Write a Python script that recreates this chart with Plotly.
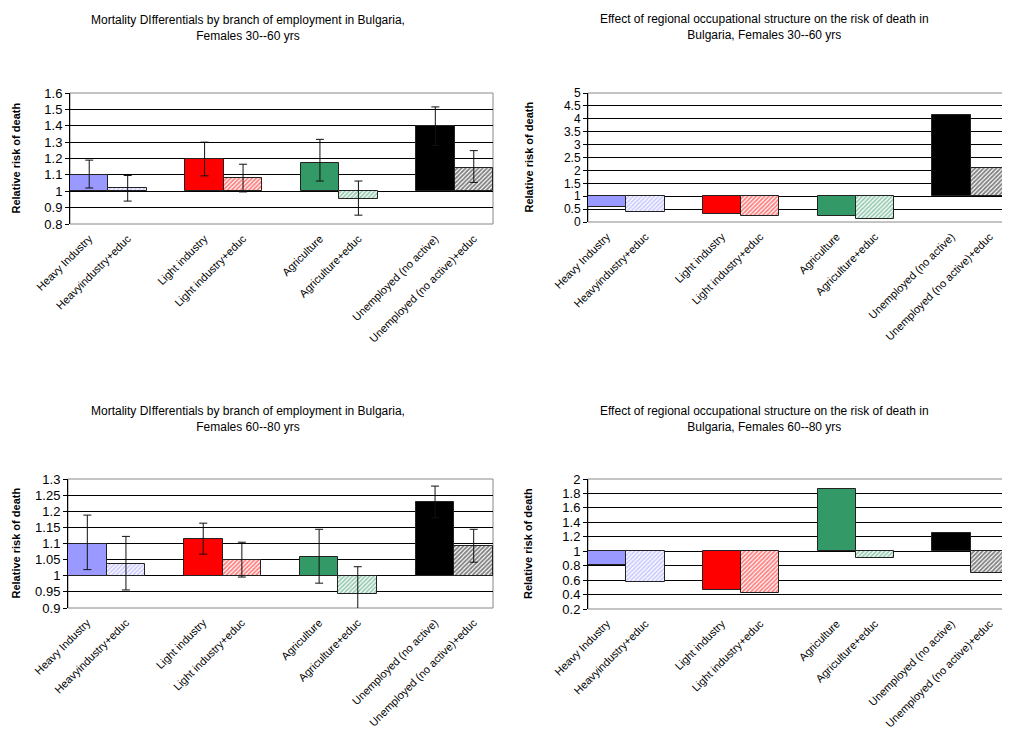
import plotly.graph_objects as go

categories = ["Heavy Industry", "Heavyindustry+educ", "Light industry", "Light industry+educ",
              "Agriculture", "Agriculture+educ", "Unemployed (no active)", "Unemployed (no active)+educ"]
slots = [0, 1, 3, 4, 6, 7, 9, 10]

base_colors = ["#9999FF", "#FF0000", "#339966", "#000000"]

# Panel 1: Mortality differentials, Females 30-60
p1_vals = [1.10, 1.017, 1.194, 1.08, 1.175, 0.954, 1.398, 1.142]
p1_hi = [1.19, 1.096, 1.30, 1.165, 1.317, 1.0625, 1.515, 1.248]
p1_lo = [1.02, 0.94, 1.094, 0.996, 1.0625, 0.854, 1.28, 1.054]

# Panel 2: Effect of regional structure, Females 30-60
p2_vals = [0.59, 0.39, 0.31, 0.25, 0.25, 0.11, 4.15, 2.085]

# Panel 3: Mortality differentials, Females 60-80
p3_vals = [1.099, 1.035, 1.113, 1.05, 1.058, 0.944, 1.228, 1.091]
p3_hi = [1.188, 1.122, 1.163, 1.104, 1.144, 1.028, 1.278, 1.144]
p3_lo = [1.019, 0.956, 1.067, 0.996, 0.977, 0.891, 1.18, 1.042]

# Panel 4: Effect of regional structure, Females 60-80
p4_vals = [0.815, 0.571, 0.465, 0.418, 1.863, 0.908, 1.258, 0.70]

titles = [
    "Mortality DIfferentials by branch of employment in Bulgaria,<br>Females 30--60 yrs",
    "Effect of regional occupational structure on the risk of death in<br>Bulgaria, Females 30--60 yrs",
    "Mortality DIfferentials by branch of employment in Bulgaria,<br>Females 60--80 yrs",
    "Effect of regional occupational structure on the risk of death in<br>Bulgaria, Females 60--80 yrs",
]
yranges = [(0.8, 1.6, 0.1), (0, 5, 0.5), (0.9, 1.3, 0.05), (0.2, 2.0, 0.2)]
ytick_sizes = [13, 12, 13, 13]

OFF = 8  # page body margin
W, H = 1010 - OFF, 729 - OFF
# plot area boxes in window pixels: (x0, x1, ytop, ybottom)
boxes = [(70, 493, 93, 224), (588, 1009, 93, 222), (68, 493, 479, 608), (588, 1009, 479, 609)]
title_pos = [(248, 28), (764, 27), (248, 419), (764, 419)]
ytitle_x = [15, 528, 15, 528]


def px(x):
    return (x - OFF) / W


def py(y):
    return 1 - (y - OFF) / H


FONT = "Liberation Sans, Arial, sans-serif"

fig = go.Figure()
panels = [(p1_vals, p1_hi, p1_lo), (p2_vals, None, None), (p3_vals, p3_hi, p3_lo), (p4_vals, None, None)]

for k, (vals, hi, lo) in enumerate(panels):
    xa = "x" if k == 0 else f"x{k+1}"
    ya = "y" if k == 0 else f"y{k+1}"
    for solid in [True, False]:
        idx = [i for i in range(8) if (i % 2 == 0) == solid]
        xs = [slots[i] for i in idx]
        ys = [vals[i] - 1 for i in idx]
        cols = [base_colors[i // 2] for i in idx]
        marker = dict(line=dict(color="#222222", width=1))
        if solid:
            marker["color"] = cols
        else:
            marker["color"] = "white"
            marker["pattern"] = dict(shape="/", fgcolor=cols, bgcolor="white", size=3, solidity=0.6)
        tr = dict(x=xs, y=ys, base=1, width=1, marker=marker, xaxis=xa, yaxis=ya,
                  showlegend=False, hoverinfo="skip")
        if hi is not None:
            tr["error_y"] = dict(type="data", symmetric=False,
                                 array=[hi[i] - vals[i] for i in idx],
                                 arrayminus=[vals[i] - lo[i] for i in idx],
                                 color="#111111", thickness=1, width=4)
        fig.add_trace(go.Bar(**tr))

layout = dict(width=W, height=H, margin=dict(l=0, r=0, t=0, b=0, autoexpand=False),
              paper_bgcolor="white", plot_bgcolor="white", bargap=0,
              font=dict(family=FONT, color="black"))
shapes = []
annotations = []
for k in range(4):
    x0, x1, yt, yb = boxes[k]
    xk = "xaxis" if k == 0 else f"xaxis{k+1}"
    yk = "yaxis" if k == 0 else f"yaxis{k+1}"
    ylo, yhi, dt = yranges[k]
    layout[xk] = dict(domain=[px(x0), min(px(x1), 1.0)], range=[-0.5, 10.5], tickmode="array",
                      tickvals=slots, ticktext=categories, tickangle=-45,
                      tickfont=dict(size=11, family=FONT), showgrid=False, zeroline=False,
                      showline=False, ticks="outside", ticklen=3, tickcolor="rgba(0,0,0,0)",
                      automargin=False, anchor=("y" if k == 0 else f"y{k+1}"), fixedrange=True)
    layout[yk] = dict(domain=[py(yb), py(yt)], range=[ylo, yhi], dtick=dt, tick0=ylo,
                      showgrid=True, gridcolor="black", gridwidth=1, zeroline=False,
                      showline=True, linecolor="black", linewidth=1, ticks="outside", ticklen=4,
                      tickcolor="black", tickfont=dict(size=ytick_sizes[k], family=FONT),
                      automargin=False, anchor=("x" if k == 0 else f"x{k+1}"), fixedrange=True)
    shapes.append(dict(type="rect", xref="paper", yref="paper", x0=px(x0), x1=min(px(x1), 1.0),
                       y0=py(yb), y1=py(yt), line=dict(color="#888888", width=1),
                       layer="below"))
    tx, ty = title_pos[k]
    annotations.append(dict(text=titles[k], xref="paper", yref="paper", x=px(tx), y=py(ty),
                            showarrow=False, font=dict(size=12, family=FONT), align="center",
                            xanchor="center", yanchor="middle"))
    annotations.append(dict(text="<b>Relative risk of death</b>", xref="paper", yref="paper",
                            x=px(ytitle_x[k]), y=py((yt + yb) / 2), textangle=-90,
                            showarrow=False, font=dict(size=11, family=FONT),
                            xanchor="center", yanchor="middle"))
layout["shapes"] = shapes
layout["annotations"] = annotations
fig.update_layout(**layout)
fig.write_html("out.html")
